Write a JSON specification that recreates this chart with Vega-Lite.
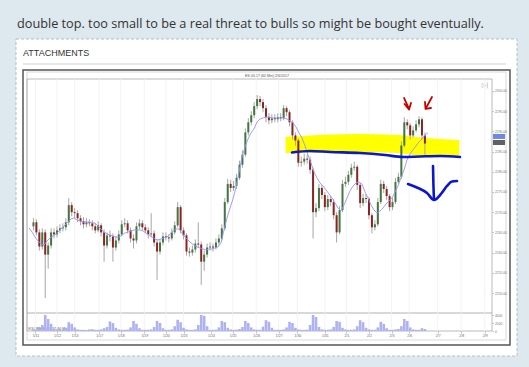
{
"$schema":"https://vega.github.io/schema/vega-lite/v6.json",
"width":529,"height":367,
"autosize":{"type":"fit","contains":"padding"},
"padding":0,
"background":"#dee8ef",
"config":{"view":{"stroke":null}},
"datasets":{
"bars":[
{"i":0,"o":2266.5,"h":2268.5,"l":2265.5,"c":2267.5,"ma":2266.09,"v":400},
{"i":1,"o":2267.5,"h":2268.25,"l":2264.25,"c":2265,"ma":2265.1,"v":350},
{"i":2,"o":2265,"h":2265.75,"l":2260.5,"c":2261.5,"ma":2263.86,"v":600},
{"i":3,"o":2261.5,"h":2266,"l":2260.75,"c":2265,"ma":2262.87,"v":1500},
{"i":4,"o":2265,"h":2265.75,"l":2248.75,"c":2259.5,"ma":2262.13,"v":4000},
{"i":5,"o":2259.5,"h":2262.5,"l":2256,"c":2261.75,"ma":2261.88,"v":3000},
{"i":6,"o":2261.75,"h":2266,"l":2261,"c":2265,"ma":2262.87,"v":1800},
{"i":7,"o":2265,"h":2266,"l":2263.5,"c":2264.5,"ma":2263.62,"v":600},
{"i":8,"o":2264.5,"h":2266.5,"l":2263.75,"c":2265.5,"ma":2264.11,"v":400},
{"i":9,"o":2265.5,"h":2267,"l":2264.75,"c":2266,"ma":2264.61,"v":300},
{"i":10,"o":2266,"h":2267.25,"l":2265.25,"c":2266.25,"ma":2265.35,"v":300},
{"i":11,"o":2266.25,"h":2268.5,"l":2265.5,"c":2267.5,"ma":2266.09,"v":800},
{"i":12,"o":2267.5,"h":2273.5,"l":2266.75,"c":2271.75,"ma":2266.83,"v":2200},
{"i":13,"o":2271.75,"h":2272.5,"l":2269,"c":2270,"ma":2267.58,"v":1800},
{"i":14,"o":2270,"h":2271,"l":2268.5,"c":2269.75,"ma":2268.32,"v":900},
{"i":15,"o":2269.75,"h":2270.5,"l":2267.5,"c":2268.5,"ma":2268.57,"v":400},
{"i":16,"o":2268.5,"h":2269.25,"l":2266.75,"c":2267.75,"ma":2268.07,"v":300},
{"i":17,"o":2267.75,"h":2268.75,"l":2266,"c":2267,"ma":2267.82,"v":300},
{"i":18,"o":2267,"h":2268.5,"l":2266.25,"c":2267.5,"ma":2267.58,"v":250},
{"i":19,"o":2267.5,"h":2268.25,"l":2266.5,"c":2267.25,"ma":2267.58,"v":400},
{"i":20,"o":2267.25,"h":2268,"l":2265.5,"c":2266.5,"ma":2267.58,"v":450},
{"i":21,"o":2266.5,"h":2267.25,"l":2264.75,"c":2265.5,"ma":2267.33,"v":300},
{"i":22,"o":2265.5,"h":2267.75,"l":2265,"c":2266.75,"ma":2267.33,"v":300},
{"i":23,"o":2266.75,"h":2267.25,"l":2264,"c":2265,"ma":2266.59,"v":400},
{"i":24,"o":2265,"h":2265.75,"l":2257.75,"c":2261.75,"ma":2265.84,"v":700},
{"i":25,"o":2261.75,"h":2265,"l":2261,"c":2264.25,"ma":2265.1,"v":1000},
{"i":26,"o":2264.25,"h":2265.5,"l":2262.75,"c":2264,"ma":2264.61,"v":2400},
{"i":27,"o":2264,"h":2264.75,"l":2257.75,"c":2261.25,"ma":2264.36,"v":2000},
{"i":28,"o":2261.25,"h":2264,"l":2260.5,"c":2263,"ma":2264.11,"v":800},
{"i":29,"o":2263,"h":2265.5,"l":2262.25,"c":2264.5,"ma":2263.86,"v":400},
{"i":30,"o":2264.5,"h":2268,"l":2264,"c":2267,"ma":2263.86,"v":300},
{"i":31,"o":2267,"h":2268.5,"l":2266.25,"c":2267.25,"ma":2264.36,"v":300},
{"i":32,"o":2267.25,"h":2268,"l":2264.75,"c":2265.5,"ma":2264.85,"v":350},
{"i":33,"o":2265.5,"h":2266.25,"l":2262.5,"c":2263.5,"ma":2265.1,"v":900},
{"i":34,"o":2263.5,"h":2264.5,"l":2261,"c":2263,"ma":2265.35,"v":2500},
{"i":35,"o":2263,"h":2267.5,"l":2262.25,"c":2266.5,"ma":2265.6,"v":1800},
{"i":36,"o":2266.5,"h":2268.25,"l":2265.75,"c":2267.25,"ma":2265.6,"v":700},
{"i":37,"o":2267.25,"h":2268,"l":2265.5,"c":2266.25,"ma":2265.6,"v":300},
{"i":38,"o":2266.25,"h":2267,"l":2264.75,"c":2265.5,"ma":2265.35,"v":300},
{"i":39,"o":2265.5,"h":2266.25,"l":2263.5,"c":2264.5,"ma":2264.85,"v":300},
{"i":40,"o":2264.5,"h":2269.75,"l":2263.75,"c":2264.75,"ma":2264.36,"v":400},
{"i":41,"o":2264.75,"h":2265.5,"l":2261.5,"c":2262.5,"ma":2263.86,"v":1000},
{"i":42,"o":2262.5,"h":2263.25,"l":2253.25,"c":2260.25,"ma":2263.37,"v":2500},
{"i":43,"o":2260.25,"h":2263.25,"l":2259.5,"c":2262.5,"ma":2263.12,"v":2000},
{"i":44,"o":2262.5,"h":2265,"l":2261.75,"c":2264,"ma":2263.37,"v":700},
{"i":45,"o":2264,"h":2265,"l":2263,"c":2263.75,"ma":2263.62,"v":300},
{"i":46,"o":2263.75,"h":2264.5,"l":2262.5,"c":2263.5,"ma":2263.86,"v":300},
{"i":47,"o":2263.5,"h":2266,"l":2263,"c":2265,"ma":2264.61,"v":400},
{"i":48,"o":2265,"h":2267.75,"l":2264.5,"c":2266.75,"ma":2265.35,"v":1200},
{"i":49,"o":2266.75,"h":2272.5,"l":2266.25,"c":2271.25,"ma":2265.84,"v":2800},
{"i":50,"o":2271.25,"h":2271.75,"l":2264.75,"c":2265.5,"ma":2265.84,"v":2200},
{"i":51,"o":2265.5,"h":2266.25,"l":2263.25,"c":2264.25,"ma":2264.85,"v":800},
{"i":52,"o":2264.25,"h":2264.75,"l":2259.25,"c":2260.25,"ma":2263.86,"v":400},
{"i":53,"o":2260.25,"h":2261.25,"l":2259,"c":2260,"ma":2263.12,"v":300},
{"i":54,"o":2260,"h":2261.75,"l":2259.25,"c":2260.75,"ma":2262.38,"v":300},
{"i":55,"o":2260.75,"h":2263.25,"l":2260,"c":2262.25,"ma":2261.88,"v":400},
{"i":56,"o":2262.25,"h":2267.5,"l":2261.25,"c":2262,"ma":2261.39,"v":1500},
{"i":57,"o":2262,"h":2262.75,"l":2252,"c":2257.75,"ma":2261.14,"v":4000},
{"i":58,"o":2257.75,"h":2260.5,"l":2255.5,"c":2259.5,"ma":2260.89,"v":3800},
{"i":59,"o":2259.5,"h":2262.25,"l":2258.75,"c":2261.25,"ma":2260.65,"v":1200},
{"i":60,"o":2261.25,"h":2262.5,"l":2260.5,"c":2261.5,"ma":2260.89,"v":300},
{"i":61,"o":2261.5,"h":2262.25,"l":2260.25,"c":2261.25,"ma":2260.89,"v":300},
{"i":62,"o":2261.25,"h":2263.5,"l":2260.75,"c":2262.5,"ma":2261.14,"v":350},
{"i":63,"o":2262.5,"h":2264.5,"l":2261.75,"c":2263.5,"ma":2261.39,"v":900},
{"i":64,"o":2263.5,"h":2267,"l":2263,"c":2266,"ma":2262.38,"v":2500},
{"i":65,"o":2266,"h":2273.5,"l":2265.5,"c":2272.5,"ma":2265.6,"v":2200},
{"i":66,"o":2272.5,"h":2278.25,"l":2272,"c":2277,"ma":2268.57,"v":800},
{"i":67,"o":2277,"h":2278,"l":2275,"c":2276,"ma":2271.04,"v":400},
{"i":68,"o":2276,"h":2277.75,"l":2275.25,"c":2276.5,"ma":2273.27,"v":300},
{"i":69,"o":2276.5,"h":2279.5,"l":2275.75,"c":2278.5,"ma":2276.24,"v":350},
{"i":70,"o":2278.5,"h":2282.75,"l":2278,"c":2281.75,"ma":2279.95,"v":500},
{"i":71,"o":2281.75,"h":2285.25,"l":2281,"c":2284.25,"ma":2283.66,"v":1000},
{"i":72,"o":2284.25,"h":2290.75,"l":2283.75,"c":2289.75,"ma":2286.14,"v":2500},
{"i":73,"o":2289.75,"h":2293.25,"l":2289,"c":2292.25,"ma":2288.12,"v":2000},
{"i":74,"o":2292.25,"h":2295,"l":2291.5,"c":2294,"ma":2289.6,"v":900},
{"i":75,"o":2294,"h":2297.25,"l":2293.25,"c":2296.25,"ma":2290.6,"v":400},
{"i":76,"o":2296.25,"h":2299,"l":2295.5,"c":2298,"ma":2292.33,"v":300},
{"i":77,"o":2298,"h":2298.75,"l":2296.25,"c":2297.25,"ma":2293.07,"v":300},
{"i":78,"o":2297.25,"h":2298,"l":2294.75,"c":2295.75,"ma":2293.32,"v":1100},
{"i":79,"o":2295.75,"h":2296.5,"l":2292.25,"c":2293.5,"ma":2293.57,"v":2700},
{"i":80,"o":2293.5,"h":2294.5,"l":2291.75,"c":2292.75,"ma":2293.57,"v":2300},
{"i":81,"o":2292.75,"h":2294.25,"l":2292,"c":2293.25,"ma":2293.32,"v":800},
{"i":82,"o":2293.25,"h":2294.25,"l":2292.25,"c":2293,"ma":2293.32,"v":300},
{"i":83,"o":2293,"h":2294.5,"l":2292.25,"c":2293.5,"ma":2293.32,"v":300},
{"i":84,"o":2293.5,"h":2294.5,"l":2292.5,"c":2293.25,"ma":2293.32,"v":300},
{"i":85,"o":2293.25,"h":2296.5,"l":2292.75,"c":2295.75,"ma":2293.32,"v":400},
{"i":86,"o":2295.75,"h":2296.25,"l":2293.75,"c":2294.75,"ma":2293.07,"v":900},
{"i":87,"o":2294.75,"h":2295.25,"l":2291.25,"c":2292.25,"ma":2292.57,"v":2300},
{"i":88,"o":2292.25,"h":2292.75,"l":2288,"c":2289,"ma":2292.08,"v":2000},
{"i":89,"o":2289,"h":2289.75,"l":2286.5,"c":2287.75,"ma":2291.09,"v":800},
{"i":90,"o":2287.75,"h":2288.25,"l":2281.25,"c":2282.25,"ma":2289.6,"v":400},
{"i":91,"o":2282.25,"h":2283.75,"l":2281.25,"c":2282.5,"ma":2288.37,"v":300},
{"i":92,"o":2282.5,"h":2284.5,"l":2281.75,"c":2283.25,"ma":2286.39,"v":300},
{"i":93,"o":2283.25,"h":2284.25,"l":2282,"c":2283,"ma":2284.16,"v":350},
{"i":94,"o":2283,"h":2283.75,"l":2279.5,"c":2280.5,"ma":2282.18,"v":1500},
{"i":95,"o":2280.5,"h":2281,"l":2263.5,"c":2270,"ma":2279.95,"v":4000},
{"i":96,"o":2270,"h":2272.25,"l":2268.75,"c":2271,"ma":2278.47,"v":3500},
{"i":97,"o":2271,"h":2277,"l":2270.25,"c":2276,"ma":2277.23,"v":1000},
{"i":98,"o":2276,"h":2276.75,"l":2273.25,"c":2274.25,"ma":2276.49,"v":400},
{"i":99,"o":2274.25,"h":2275,"l":2270.25,"c":2271.25,"ma":2275.5,"v":300},
{"i":100,"o":2271.25,"h":2274.25,"l":2270.5,"c":2273.25,"ma":2274.51,"v":300},
{"i":101,"o":2273.25,"h":2274,"l":2271.5,"c":2272.5,"ma":2273.52,"v":400},
{"i":102,"o":2272.5,"h":2273.25,"l":2268.25,"c":2269.25,"ma":2272.28,"v":1000},
{"i":103,"o":2269.25,"h":2270,"l":2262.5,"c":2265,"ma":2271.04,"v":2500},
{"i":104,"o":2265,"h":2271.5,"l":2264.5,"c":2270.5,"ma":2270.3,"v":2300},
{"i":105,"o":2270.5,"h":2278,"l":2270,"c":2277,"ma":2271.78,"v":800},
{"i":106,"o":2277,"h":2278.75,"l":2276.25,"c":2277.5,"ma":2273.52,"v":400},
{"i":107,"o":2277.5,"h":2280.25,"l":2276.75,"c":2279.25,"ma":2275.25,"v":300},
{"i":108,"o":2279.25,"h":2282,"l":2278.5,"c":2281,"ma":2276.49,"v":300},
{"i":109,"o":2281,"h":2282.5,"l":2280.25,"c":2281.25,"ma":2277.23,"v":400},
{"i":110,"o":2281.25,"h":2281.75,"l":2275.5,"c":2276.75,"ma":2277.48,"v":1200},
{"i":111,"o":2276.75,"h":2277.25,"l":2271,"c":2272.25,"ma":2276.98,"v":2700},
{"i":112,"o":2272.25,"h":2274.5,"l":2271.5,"c":2273.5,"ma":2275,"v":2200},
{"i":113,"o":2273.5,"h":2274.5,"l":2272.25,"c":2273.25,"ma":2273.52,"v":800},
{"i":114,"o":2273.25,"h":2273.75,"l":2268.25,"c":2269.25,"ma":2271.78,"v":400},
{"i":115,"o":2269.25,"h":2269.75,"l":2264.75,"c":2266.25,"ma":2270.55,"v":300},
{"i":116,"o":2266.25,"h":2268,"l":2265.5,"c":2267,"ma":2269.8,"v":300},
{"i":117,"o":2267,"h":2273.5,"l":2266.5,"c":2272.5,"ma":2270.3,"v":900},
{"i":118,"o":2272.5,"h":2278,"l":2272,"c":2277,"ma":2271.04,"v":2300},
{"i":119,"o":2277,"h":2277.75,"l":2274.75,"c":2275.75,"ma":2272.03,"v":1800},
{"i":120,"o":2275.75,"h":2276.5,"l":2273,"c":2274,"ma":2272.77,"v":700},
{"i":121,"o":2274,"h":2274.5,"l":2270.25,"c":2271.25,"ma":2273.52,"v":300},
{"i":122,"o":2271.25,"h":2273.5,"l":2270.5,"c":2272.5,"ma":2275,"v":300},
{"i":123,"o":2272.5,"h":2278.5,"l":2272,"c":2277.5,"ma":2276.49,"v":400},
{"i":124,"o":2277.5,"h":2279.75,"l":2277,"c":2278.75,"ma":2278.47,"v":500},
{"i":125,"o":2278.75,"h":2287.5,"l":2278.25,"c":2286.5,"ma":2280.45,"v":1200},
{"i":126,"o":2286.5,"h":2293.5,"l":2286,"c":2292.25,"ma":2282.92,"v":3000},
{"i":127,"o":2292.25,"h":2293,"l":2290.5,"c":2291.5,"ma":2284.41,"v":2500},
{"i":128,"o":2291.5,"h":2292,"l":2288,"c":2289,"ma":2285.4,"v":900},
{"i":129,"o":2289,"h":2291.25,"l":2288.5,"c":2290.25,"ma":2286.39,"v":400},
{"i":130,"o":2290.25,"h":2292.75,"l":2289.75,"c":2291.75,"ma":2287.38,"v":300},
{"i":131,"o":2291.75,"h":2293.75,"l":2291,"c":2293,"ma":2288.12,"v":300},
{"i":132,"o":2293,"h":2293.5,"l":2288,"c":2289,"ma":2289.11,"v":700},
{"i":133,"o":2289,"h":2289.75,"l":2284.25,"c":2287,"ma":2289.6,"v":500}
],
"days":[{"i":0.67,"d":"1/11"},{"i":8,"d":"1/12"},{"i":14,"d":"1/13"},{"i":22.33,"d":"1/17"},{"i":29.67,"d":"1/18"},{"i":37.67,"d":"1/19"},{"i":45,"d":"1/20"},{"i":51,"d":"1/23"},{"i":60.33,"d":"1/24"},{"i":67.67,"d":"1/25"},{"i":75.67,"d":"1/26"},{"i":83.33,"d":"1/27"},{"i":89.67,"d":"1/30"},{"i":99,"d":"1/31"},{"i":106.33,"d":"2/1"},{"i":114,"d":"2/2"},{"i":121.67,"d":"2/3"},{"i":127.67,"d":"2/6"},{"i":137.33,"d":"2/7"},{"i":145.33,"d":"2/8"},{"i":153.33,"d":"2/9"}],
"yellow":[{"i":85.67,"top":2288.61,"bot":2284.65},{"i":97,"top":2289.11,"bot":2284.65},{"i":110.33,"top":2289.36,"bot":2284.9},{"i":123.67,"top":2289.11,"bot":2284.65},{"i":133.67,"top":2288.37,"bot":2283.91},{"i":144.67,"top":2287.87,"bot":2283.91}],
"ink":[{"g":"a","k":0,"i":87.67,"p":2284.78},{"g":"a","k":1,"i":93.67,"p":2285.15},{"g":"a","k":2,"i":100.33,"p":2284.9},{"g":"a","k":3,"i":110.33,"p":2284.65},{"g":"a","k":4,"i":118.67,"p":2284.16},{"g":"a","k":5,"i":124.67,"p":2283.67},{"g":"a","k":6,"i":130.33,"p":2283.79},{"g":"a","k":7,"i":137,"p":2283.91},{"g":"a","k":8,"i":143.67,"p":2283.67},
{"g":"b","k":0,"i":134.67,"p":2281.44},{"g":"b","k":1,"i":134.8,"p":2277},{"g":"b","k":2,"i":135,"p":2273.27},
{"g":"c","k":0,"i":126.33,"p":2276.98},{"g":"c","k":1,"i":129.67,"p":2275.99},{"g":"c","k":2,"i":132.67,"p":2274.75},{"g":"c","k":3,"i":135,"p":2273.02},{"g":"c","k":4,"i":137.33,"p":2274.51},{"g":"c","k":5,"i":139.33,"p":2276.49},{"g":"c","k":6,"i":141,"p":2277.6},{"g":"c","k":7,"i":142.67,"p":2277.72}],
"arrows":[{"g":"r1","k":0,"i":125,"p":2298.27},{"g":"r1","k":1,"i":126.67,"p":2295.55},
{"g":"r1h","k":0,"i":125.17,"p":2296.78},{"g":"r1h","k":1,"i":126.67,"p":2295.42},{"g":"r1h","k":2,"i":127.33,"p":2297.03},
{"g":"r2","k":0,"i":134.33,"p":2298.52},{"g":"r2","k":1,"i":132.33,"p":2295.79},
{"g":"r2h","k":0,"i":132,"p":2297.28},{"g":"r2h","k":1,"i":132.17,"p":2295.55},{"g":"r2h","k":2,"i":134,"p":2295.79}],
"tags":[{"what":"MA","p":2288.75},{"what":"Last","p":2287.25}]
},
"layer":[
{"data":{"values":[{}]},
 "layer":[
  {"mark":{"type":"rect","fill":"#ffffff","stroke":"#b3c1cb","strokeDash":[3,2],"strokeWidth":1},
   "encoding":{"x":{"datum":16,"type":"quantitative","scale":{"domain":[0,529],"nice":false,"zero":false},"axis":null},"x2":{"datum":517},
   "y":{"datum":39,"type":"quantitative","scale":{"domain":[0,367],"nice":false,"zero":false,"reverse":true},"axis":null},"y2":{"datum":356}}},
  {"mark":{"type":"text","text":"double top. too small to be a real threat to bulls so might be bought eventually.","align":"left","baseline":"alphabetic","font":"Open Sans","fontSize":12.7,"fill":"#333333"},
   "encoding":{"x":{"datum":17,"type":"quantitative","axis":null},"y":{"datum":28,"type":"quantitative","axis":null}}},
  {"mark":{"type":"text","text":"ATTACHMENTS","align":"left","baseline":"alphabetic","font":"Liberation Sans","fontSize":9,"fill":"#333333"},
   "encoding":{"x":{"datum":23,"type":"quantitative","axis":null},"y":{"datum":56,"type":"quantitative","axis":null}}},
  {"mark":{"type":"rule","color":"#c6d1d9","strokeWidth":1},
   "encoding":{"x":{"datum":23,"type":"quantitative","axis":null},"x2":{"datum":506},"y":{"datum":64,"type":"quantitative","axis":null}}},
  {"mark":{"type":"rect","fill":"#ffffff","stroke":"#555555","strokeWidth":1.5},
   "encoding":{"x":{"datum":23,"type":"quantitative","axis":null},"x2":{"datum":510},"y":{"datum":70,"type":"quantitative","axis":null},"y2":{"datum":345}}},
  {"mark":{"type":"rect","fillOpacity":0,"stroke":"#cfcfcf","strokeWidth":0.8},
   "encoding":{"x":{"datum":27,"type":"quantitative","axis":null},"x2":{"datum":506},"y":{"datum":72,"type":"quantitative","axis":null},"y2":{"datum":340}}},
  {"mark":{"type":"rect","fillOpacity":0,"stroke":"#a8a8a8","strokeWidth":0.8},
   "encoding":{"x":{"datum":27,"type":"quantitative","axis":null},"x2":{"datum":492},"y":{"datum":79,"type":"quantitative","axis":null},"y2":{"datum":331}}},
  {"mark":{"type":"rule","color":"#a0a0a0","strokeWidth":0.8},
   "encoding":{"x":{"datum":27,"type":"quantitative","axis":null},"x2":{"datum":492},"y":{"datum":313,"type":"quantitative","axis":null}}},
  {"mark":{"type":"text","text":"ES 03-17 (60 Min)  2/6/2017","align":"center","baseline":"middle","font":"Liberation Sans","fontSize":3.6,"fill":"#555555"},
   "encoding":{"x":{"datum":267,"type":"quantitative","axis":null},"y":{"datum":75.5,"type":"quantitative","axis":null}}},
  {"mark":{"type":"text","text":"VOLUME(ES 03-17 (60 Min))","align":"left","baseline":"middle","font":"Liberation Sans","fontSize":3.2,"fill":"#444444"},
   "encoding":{"x":{"datum":28,"type":"quantitative","axis":null},"y":{"datum":328.5,"type":"quantitative","axis":null}}},
  {"mark":{"type":"text","text":"▷|","align":"center","baseline":"middle","font":"DejaVu Sans","fontSize":6,"fill":"#999999"},
   "encoding":{"x":{"datum":485,"type":"quantitative","axis":null},"y":{"datum":85,"type":"quantitative","axis":null}}}
 ]},
{"data":{"name":"bars"},
 "layer":[
  {"data":{"name":"days"},
   "mark":{"type":"rule","color":"#f0f0f0","strokeWidth":0.8},
   "encoding":{"x":{"field":"i","type":"quantitative","scale":{"domain":[-9.6667,166.6667],"nice":false,"zero":false},"axis":null},
   "y":{"datum":2302.97,"type":"quantitative","scale":{"domain":[2231.68,2322.52],"nice":false,"zero":false},"axis":null},
   "y2":{"datum":2240.6}}},
  {"data":{"name":"yellow"},
   "mark":{"type":"area","color":"#ffff00","opacity":1,"interpolate":"monotone"},
   "encoding":{"x":{"field":"i","type":"quantitative","axis":null},"y":{"field":"top","type":"quantitative","axis":null},"y2":{"field":"bot"}}},
  {"mark":{"type":"rule","color":"#a6a6a6","strokeWidth":1},
   "encoding":{"x":{"field":"i","type":"quantitative","axis":null},"y":{"field":"l","type":"quantitative","axis":null},"y2":{"field":"h"}}},
  {"mark":{"type":"bar","size":2},
   "encoding":{"x":{"field":"i","type":"quantitative","axis":null},"y":{"field":"o","type":"quantitative","axis":null},"y2":{"field":"c"},
   "color":{"condition":{"test":"datum.c >= datum.o","value":"#44763f"},"value":"#8c2222"}}}
 ]},
{"data":{"name":"bars"},
 "mark":{"type":"line","color":"#9494ff","strokeWidth":0.9},
 "encoding":{"x":{"field":"i","type":"quantitative","scale":{"domain":[-9.6667,166.6667],"nice":false,"zero":false},"axis":null},
  "y":{"field":"ma","type":"quantitative","scale":{"domain":[2231.68,2322.52],"nice":false,"zero":false},
   "axis":{"orient":"right","offset":-37,"zindex":2,"values":[2250,2255,2260,2265,2270,2275,2280,2285,2290,2295,2300],"format":".2f","labelFontSize":3.3,"labelFont":"Liberation Sans","labelColor":"#777777","tickSize":1.5,"tickColor":"#999999","tickWidth":0.6,"domain":false,"grid":false,"title":null,"labelPadding":1,"labelOverlap":false,"labelBound":false}}}},
{"layer":[
  {"data":{"name":"ink"},
   "mark":{"type":"line","color":"#0b17cf","strokeWidth":2.6,"strokeCap":"round","strokeJoin":"round","interpolate":"monotone"},
   "encoding":{"x":{"field":"i","type":"quantitative","scale":{"domain":[-9.6667,166.6667],"nice":false,"zero":false},"axis":null},
   "y":{"field":"p","type":"quantitative","scale":{"domain":[2231.68,2322.52],"nice":false,"zero":false},"axis":null},"detail":{"field":"g"},"order":{"field":"k"}}},
  {"data":{"name":"arrows"},
   "mark":{"type":"line","color":"#c40000","strokeWidth":1.8,"strokeCap":"round","strokeJoin":"round"},
   "encoding":{"x":{"field":"i","type":"quantitative","axis":null},"y":{"field":"p","type":"quantitative","axis":null},"detail":{"field":"g"},"order":{"field":"k"}}},
  {"data":{"name":"tags"},
   "mark":{"type":"tick","orient":"horizontal","thickness":5,"size":12},
   "encoding":{"x":{"datum":156.67,"type":"quantitative","axis":null},"y":{"field":"p","type":"quantitative","axis":null},
   "color":{"field":"what","type":"nominal","scale":{"domain":["MA","Last"],"range":["#2f55d4","#1e1e1e"]},"legend":null}}}
 ]},
{"data":{"name":"bars"},
 "mark":{"type":"bar","color":"#aeb1f3","size":2.6},
 "encoding":{
  "x":{"field":"i","type":"quantitative","scale":{"domain":[-9.6667,166.6667],"nice":false,"zero":false},
   "axis":{"orient":"bottom","offset":-36,"zindex":2,"values":[0.67,8,14,22.33,29.67,37.67,45,51,60.33,67.67,75.67,83.33,89.67,99,106.33,114,121.67,127.67,137.33,145.33,153.33],
   "labelExpr":"['1/11','1/12','1/13','1/17','1/18','1/19','1/20','1/23','1/24','1/25','1/26','1/27','1/30','1/31','2/1','2/2','2/3','2/6','2/7','2/8','2/9'][indexof([0.67,8,14,22.33,29.67,37.67,45,51,60.33,67.67,75.67,83.33,89.67,99,106.33,114,121.67,127.67,137.33,145.33,153.33], datum.value)]",
   "labelFontSize":3.5,"labelFont":"Liberation Sans","labelColor":"#666666","tickSize":2,"tickColor":"#999999","tickWidth":0.6,"domain":false,"grid":false,"title":null,"labelPadding":0.5,"labelOverlap":false,"labelFlush":false,"labelBound":false}},
  "y":{"field":"v","type":"quantitative","stack":null,"scale":{"domain":[-9000,82750],"nice":false,"zero":false},
   "axis":{"orient":"right","offset":-37,"zindex":2,"values":[0,2000,4000],"format":"d","labelFontSize":3.3,"labelFont":"Liberation Sans","labelColor":"#777777","tickSize":1.5,"tickColor":"#999999","tickWidth":0.6,"domain":false,"grid":false,"title":null,"labelPadding":1,"labelOverlap":false,"labelBound":false}},
  "y2":{"datum":0}}}
],
"resolve":{"scale":{"x":"independent","y":"independent"}}
}
